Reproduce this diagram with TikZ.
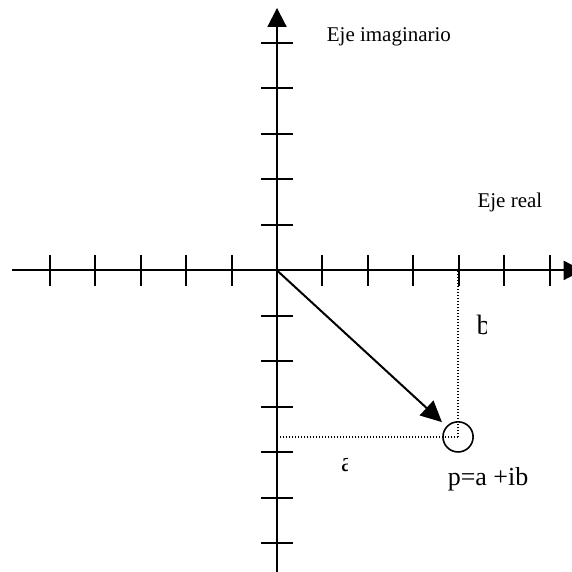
\documentclass[tikz,border=0pt]{standalone}
\usepackage{fontspec}
\setmainfont{Liberation Serif}
\usetikzlibrary{arrows.meta}

\tikzset{
  axisline/.style={line width=1pt, -{Triangle[length=9.5pt,width=9.5pt]}},
  tickline/.style={line width=1pt},
  guideline/.style={line width=0.6pt, dash pattern=on 0.6pt off 0.9pt},
  axislabel/.style={font=\fontsize{10.5}{12}\selectfont},
  partlabel/.style={font=\fontsize{14}{16}\selectfont, inner sep=0pt}
}

\begin{document}
\begin{tikzpicture}[x=0.8cm, y=0.8cm]
  \clip (-6.09,-6.63) rectangle (6.48,5.945);
  % axes
  \coordinate (O) at (0,0);
  \coordinate (xstart) at (-5.82,0);
  \coordinate (xend) at (6.72,0);
  \coordinate (ystart) at (0,-6.7);
  \coordinate (yend) at (0,5.77);
  \draw[axisline] (xstart) -- (xend);
  \draw[axisline] (ystart) -- (yend);
  \foreach \i in {-5,-4,-3,-2,-1,1,2,3,4,5,6}
    \draw[tickline] (\i,0.34) -- (\i,-0.34);
  \foreach \j in {-6,-5,-4,-3,-2,-1,1,2,3,4,5}
    \draw[tickline] (-0.35,\j) -- (0.35,\j);
  \node[axislabel] (imag) at (2.46,5.13) {Eje imaginario};
  \node[axislabel] (real) at (5.12,1.5) {Eje real};
  % point p
  \node[circle, draw, line width=0.8pt, minimum size=0.53cm, inner sep=0pt] (p) at (3.98,-3.66) {};
  \draw[guideline] (p.center) -- (p.center |- O);
  \draw[guideline] (p.center) -- (O |- p.center);
  \draw[line width=1pt, -{Triangle[length=10.5pt,width=10pt]}, shorten >=3pt] (O) -- (p);
  \node[font=\fontsize{13}{15}\selectfont] (plabel) at (4.64,-4.6) {p=a +ib};
  % clipped labels a and b
  \begin{scope}
    \clip (4.3,-0.85) rectangle (4.6,-1.5);
    \node[partlabel, anchor=west] (lblb) at (4.38,-1.2) {b};
  \end{scope}
  \begin{scope}
    \clip (1.3,-3.95) rectangle (1.56,-4.6);
    \node[partlabel, anchor=west] (lbla) at (1.4,-4.28) {a};
  \end{scope}
\end{tikzpicture}
\end{document}
